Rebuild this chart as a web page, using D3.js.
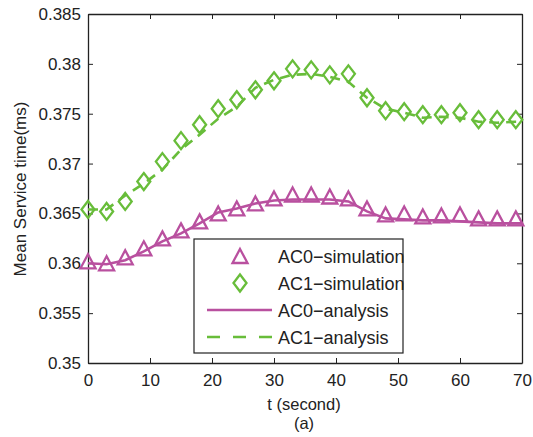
<!DOCTYPE html>
<html>
<head>
<meta charset="utf-8">
<script src="https://cdn.jsdelivr.net/npm/d3@7"></script>
<style>
  html, body { margin: 0; padding: 0; background: #fff; }
  svg { display: block; font-family: "Liberation Sans", Arial, sans-serif; }
</style>
</head>
<body>
<svg id="chart" width="533" height="437"></svg>
<script>
// Simulation samples (every 3 s)
const simTimes = [0, 3, 6, 9, 12, 15, 18, 21, 24, 27, 30, 33, 36, 39, 42, 45, 48, 51, 54, 57, 60, 63, 66, 69];
const ac0Sim = [0.3602, 0.3600, 0.3606, 0.3615, 0.3625, 0.3633, 0.3642, 0.3650, 0.3655, 0.3660, 0.3665, 0.3669,
                0.3669, 0.3667, 0.3665, 0.3655, 0.3649, 0.3650, 0.3647, 0.3648, 0.3649, 0.3645, 0.3645, 0.3645];
const ac1Sim = [0.3654, 0.3652, 0.3662, 0.3682, 0.3702, 0.3723, 0.3739, 0.3755, 0.3764, 0.3774, 0.3783, 0.3795,
                0.3794, 0.3789, 0.3790, 0.3766, 0.3753, 0.3752, 0.3749, 0.3749, 0.3751, 0.3744, 0.3744, 0.3744];

// Analytical curves
const anaTimes = [0, 3, 6, 9, 12, 15, 18, 21, 24, 27, 30, 33, 36, 39, 42, 45, 48, 51, 54, 57, 60, 63, 66, 69, 70];
const ac0Ana = [0.3600, 0.3599, 0.3603, 0.3612, 0.3622, 0.3630, 0.3640, 0.3651, 0.3655, 0.3660, 0.3663, 0.3664,
                0.3664, 0.3664, 0.3662, 0.3652, 0.3645, 0.3644, 0.3643, 0.3643, 0.3642, 0.3641, 0.3640, 0.3640, 0.3640];
const ac1Ana = [0.3654, 0.3654, 0.3668, 0.3680, 0.3694, 0.3714, 0.3729, 0.3745, 0.3757, 0.3776, 0.3784, 0.3789,
                0.3790, 0.3787, 0.3782, 0.3766, 0.3755, 0.3751, 0.3746, 0.3747, 0.3746, 0.3742, 0.3741, 0.3742, 0.3742];

const xTicks = [0, 10, 20, 30, 40, 50, 60, 70];
const yTicks = [0.35, 0.355, 0.36, 0.365, 0.37, 0.375, 0.38, 0.385];
const yTickLabels = ["0.35", "0.355", "0.36", "0.365", "0.37", "0.375", "0.38", "0.385"];
const legendLabels = ["AC0\u2212simulation", "AC1\u2212simulation", "AC0\u2212analysis", "AC1\u2212analysis"];

const purple = "#b9509f";
const green = "#68bd3a";
const ink = "#222";
const tickFont = 17;
const xTitleFont = 16.5;
const yTitleFont = 17;
const legendFont = 18;

const svg = d3.select("#chart");
const L = 88, R = 522, T = 14, B = 363;

const x = d3.scaleLinear().domain([0, 70]).range([L, R]);
const y = d3.scaleLinear().domain([0.35, 0.385]).range([B, T]);

// Axes with inward ticks on all four sides
const axisStyle = g => {
  g.selectAll(".domain").attr("stroke", ink).attr("stroke-width", 1.3);
  g.selectAll(".tick line").attr("stroke", ink).attr("stroke-width", 1);
  g.selectAll(".tick text").attr("fill", ink).attr("font-size", tickFont)
    .attr("font-family", "Liberation Sans, Arial, sans-serif");
};

svg.append("g").attr("transform", `translate(0,${B})`)
  .call(d3.axisBottom(x).tickValues(xTicks).tickFormat(d3.format("d"))
        .tickSizeInner(-5).tickSizeOuter(0).tickPadding(11))
  .call(axisStyle);

svg.append("g").attr("transform", `translate(0,${T})`)
  .call(d3.axisTop(x).tickValues(xTicks).tickFormat("")
        .tickSizeInner(-5).tickSizeOuter(0))
  .call(axisStyle);

svg.append("g").attr("transform", `translate(${L},0)`)
  .call(d3.axisLeft(y).tickValues(yTicks).tickFormat((d, i) => yTickLabels[i])
        .tickSizeInner(-5).tickSizeOuter(0).tickPadding(7))
  .call(axisStyle);

svg.append("g").attr("transform", `translate(${R},0)`)
  .call(d3.axisRight(y).tickValues(yTicks).tickFormat("")
        .tickSizeInner(-5).tickSizeOuter(0))
  .call(axisStyle);

// Axis titles
svg.append("text")
  .attr("x", 304).attr("y", 409.5)
  .attr("text-anchor", "middle").attr("font-size", xTitleFont).attr("fill", ink)
  .text("t (second)");
svg.append("text")
  .attr("x", 304).attr("y", 428.5)
  .attr("text-anchor", "middle").attr("font-size", xTitleFont).attr("fill", ink)
  .text("(a)");
svg.append("text")
  .attr("transform", `translate(26,189) rotate(-90)`)
  .attr("text-anchor", "middle").attr("font-size", yTitleFont).attr("fill", ink)
  .text("Mean Service time(ms)");

// Marker shapes
const triPath = "M0,-7L7.5,7L-7.5,7Z";
const diaPath = "M0,-8.5L6.5,0L0,8.5L-6.5,0Z";

const plot = svg.append("g");

// Simulation markers
plot.selectAll(".tri").data(simTimes.map((t, i) => [t, ac0Sim[i]]))
  .join("path").attr("class", "tri")
  .attr("d", triPath)
  .attr("transform", d => `translate(${x(d[0])},${y(d[1])})`)
  .attr("fill", "none").attr("stroke", purple).attr("stroke-width", 2.3);

plot.selectAll(".dia").data(simTimes.map((t, i) => [t, ac1Sim[i]]))
  .join("path").attr("class", "dia")
  .attr("d", diaPath)
  .attr("transform", d => `translate(${x(d[0])},${y(d[1])})`)
  .attr("fill", "none").attr("stroke", green).attr("stroke-width", 2.3);

// Analytical lines
const line = d3.line().x(d => x(d[0])).y(d => y(d[1]));
plot.append("path")
  .datum(anaTimes.map((t, i) => [t, ac0Ana[i]]))
  .attr("d", line).attr("fill", "none")
  .attr("stroke", purple).attr("stroke-width", 2.6);
plot.append("path")
  .datum(anaTimes.map((t, i) => [t, ac1Ana[i]]))
  .attr("d", line).attr("fill", "none")
  .attr("stroke", green).attr("stroke-width", 2.6)
  .attr("stroke-dasharray", "10,7");

// Legend
const lg = svg.append("g").attr("transform", "translate(194,239)");
lg.append("rect").attr("width", 209).attr("height", 114)
  .attr("fill", "#fff").attr("stroke", ink).attr("stroke-width", 1.2);
const rowY = [17, 44, 71, 98];
lg.append("path").attr("d", triPath).attr("transform", `translate(46,${rowY[0]})`)
  .attr("fill", "none").attr("stroke", purple).attr("stroke-width", 2.3);
lg.append("path").attr("d", diaPath).attr("transform", `translate(46,${rowY[1]})`)
  .attr("fill", "none").attr("stroke", green).attr("stroke-width", 2.3);
lg.append("line").attr("x1", 13).attr("x2", 78).attr("y1", rowY[2]).attr("y2", rowY[2])
  .attr("stroke", purple).attr("stroke-width", 2.6);
lg.append("line").attr("x1", 13).attr("x2", 78).attr("y1", rowY[3]).attr("y2", rowY[3])
  .attr("stroke", green).attr("stroke-width", 2.6).attr("stroke-dasharray", "13,13");
lg.selectAll(".lt").data(legendLabels).join("text").attr("class", "lt")
  .attr("x", 84).attr("y", (d, i) => rowY[i] + 6.5)
  .attr("font-size", legendFont).attr("fill", ink)
  .text(d => d);
</script>
</body>
</html>
